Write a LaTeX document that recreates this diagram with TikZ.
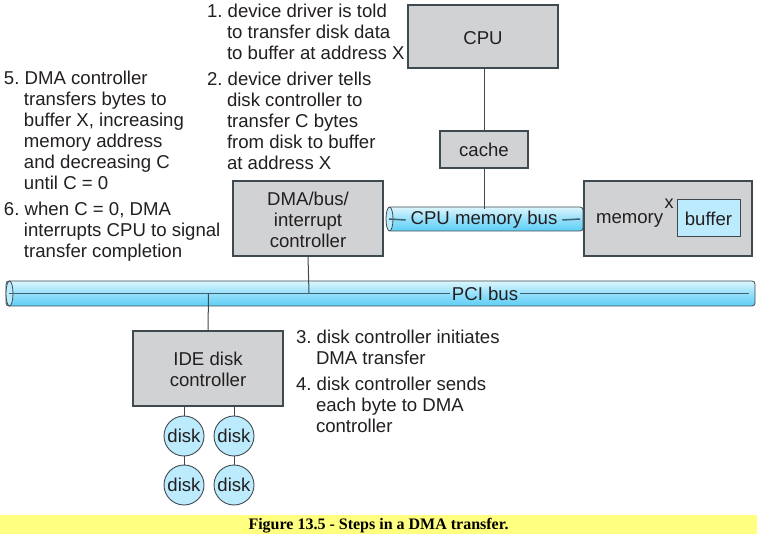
\documentclass[tikz,border=0pt]{standalone}
\usepackage{fontspec}
\setmainfont{Liberation Sans}
\newfontfamily\capfont{Liberation Serif}
\usetikzlibrary{calc}
\definecolor{boxgray}{HTML}{D1D2D4}
\definecolor{lightcy}{HTML}{BCEBFD}
\definecolor{linegray}{HTML}{3F4A50}
\definecolor{wireblue}{HTML}{3F6072}
\definecolor{textk}{HTML}{231F20}
\definecolor{bustop}{HTML}{DDF6FE}
\definecolor{busmid}{HTML}{96E0FA}
\definecolor{busbot}{HTML}{5CCEF6}
\definecolor{barcol}{HTML}{FFFF80}
\newcommand{\lbl}{\fontsize{18.6}{21}\selectfont}
\newcommand{\ind}[1]{\hspace*{#1pt}}
\newcommand{\dn}[2][1.2]{\raisebox{-#1pt}[\height][\depth]{#2}}
\tikzset{
  x=1pt,y=-1pt,
  every node/.style={text=textk,font=\lbl,inner sep=0pt,outer sep=0pt},
  graybox/.style={draw=linegray,line width=1.1pt,fill=boxgray,align=center,anchor=north west},
  bluebox/.style={draw=linegray,line width=1pt,fill=lightcy,align=center},
  disknode/.style={circle,draw=linegray,line width=0.9pt,fill=lightcy,minimum size=40pt},
  wire/.style={draw=linegray,line width=1pt},
  buswire/.style={draw=wireblue,line width=1.5pt},
  steptext/.style={align=left,anchor=north west},
  busbody/.style={draw=linegray,line width=0.8pt,rounded corners=3pt,top color=bustop,bottom color=busbot,middle color=busmid},
  busend/.style={draw=linegray,line width=0.8pt,fill=lightcy},
}
\begin{document}
\begin{tikzpicture}
\useasboundingbox (0,0) rectangle (757,534);
\fill[white] (0,0) rectangle (757,534);
\fill[barcol] (0,515) rectangle (757,534);
\node[font=\capfont\bfseries\fontsize{16}{18}\selectfont,text=black] (cap) at (378.5,525.5) {Figure 13.5 - Steps in a DMA transfer.};

% buses
\draw[busbody] (6,281) rectangle (755,306);
\draw[busend] (9.5,293.5) ellipse (3.5 and 12.5);
\draw[busbody] (388,207) rectangle (583,231);
\draw[busend] (389.5,219) ellipse (3.5 and 12);

% nodes
\node[graybox,minimum width=150pt,minimum height=63pt] (cpu) at (408,5) {\dn[2]{CPU}};
\node[graybox,minimum width=88pt,minimum height=37pt] (cache) at (440,131) {cache};
\node[graybox,minimum width=150pt,minimum height=75pt] (dma) at (233,181) {\dn{DMA/bus/}\\\dn{interrupt}\\\dn{controller}};
\node[graybox,minimum width=168pt,minimum height=75pt] (mem) at (584,181) {};
\node[anchor=west] (memt) at (596,220) {memory};
\node[font=\fontsize{18}{20}\selectfont] (x) at (669,204) {x};
\node[bluebox,minimum width=63pt,minimum height=37pt,anchor=north west] (buf) at (677,200) {buffer};
\node[graybox,minimum width=150pt,minimum height=75pt] (ide) at (133,331) {\dn{IDE disk}\\\dn{controller}};
\node[disknode] (d1) at (184,436) {disk};
\node[disknode] (d2) at (234,436) {disk};
\node[disknode] (d3) at (184,485) {disk};
\node[disknode] (d4) at (234,485) {disk};

% bus labels and inner lines
\node (cpul) at (484,220) {CPU memory bus};
\node (pcil) at (485,293.5) {PCI bus};
\coordinate (cl) at (389,219);
\coordinate (cr) at (580,219);
\coordinate (pl) at (9,293.5);
\coordinate (pr) at (749,293.5);
\draw[buswire] (cl) -- ([xshift=-5pt]cpul.west);
\draw[buswire] ([xshift=5pt]cpul.east) -- (cr);
\draw[buswire] (pl) -- ([xshift=-2pt]pcil.west);
\draw[buswire] ([xshift=2pt]pcil.east) -- (pr);

% connectors
\coordinate (cputap) at (484,209);
\coordinate (dmatap) at (309,293.5);
\coordinate (idetap) at (208.5,293.5);
\draw[wire] (cpu.south-|cache) -- (cache.north);
\draw[wire] (cache.south) -- (cputap);
\draw[wire] (dma.south) -- (dmatap);
\draw[wire] (ide.north) -- (idetap);
\draw[wire] (ide.south-|d1) -- (d1.north);
\draw[wire] (ide.south-|d2) -- (d2.north);
\draw[wire] (d1) -- (d3);
\draw[wire] (d2) -- (d4);

% step texts
\node[steptext] (s1) at (207,4) {1.\ device driver is told\\\ind{20}to transfer disk data\\\ind{20}to buffer at address X};
\node[steptext] (s2) at (207,72) {2.\ device driver tells\\\ind{20}disk controller to\\\ind{20}transfer C bytes\\\ind{20}from disk to buffer\\\ind{20}at address X};
\node[steptext] (s5) at (4,71) {5.\ DMA controller\\\ind{20}transfers bytes to\\\ind{20}buffer X, increasing\\\ind{20}memory address\\\ind{20}and decreasing C\\\ind{20}until C = 0};
\node[steptext] (s6) at (4,202) {6.\ when C = 0, DMA\\\ind{20}interrupts CPU to signal\\\ind{20}transfer completion};
\node[steptext] (s3) at (296,330) {3.\ disk controller initiates\\\ind{20}DMA transfer};
\node[steptext] (s4) at (296,377) {4.\ disk controller sends\\\ind{20}each byte to DMA\\\ind{20}controller};
\end{tikzpicture}
\end{document}
